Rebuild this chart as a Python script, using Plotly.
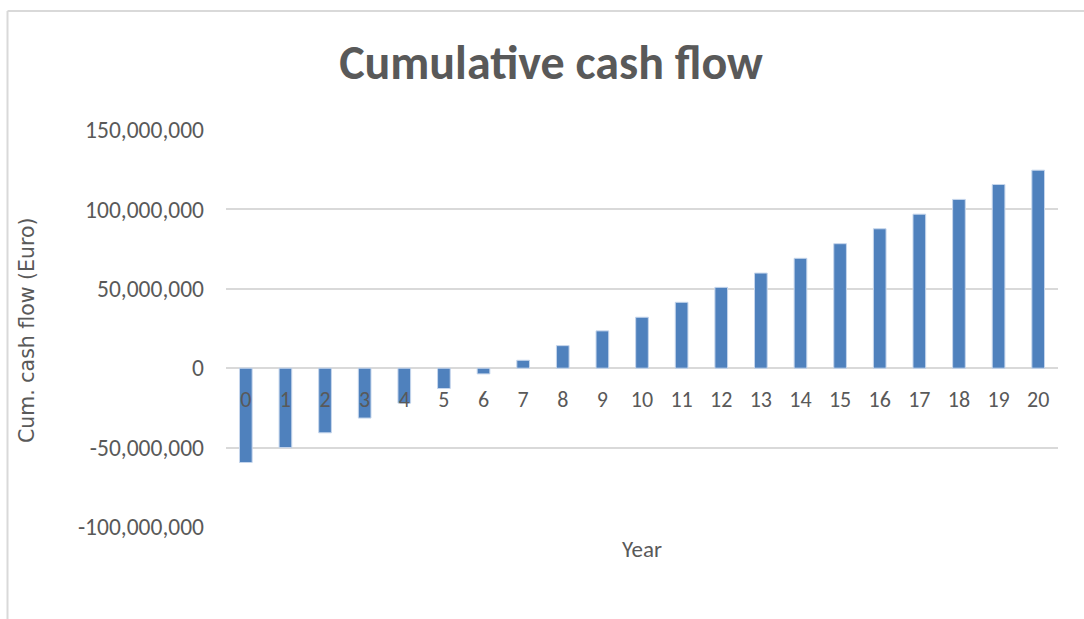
import plotly.graph_objects as go

years = [str(i) for i in range(21)]
cum_cash_flow = [-59.4e6, -50.0e6, -40.7e6, -31.4e6, -22.0e6, -12.8e6, -3.6e6,
                 5.0e6, 14.2e6, 23.5e6, 32.1e6, 41.5e6, 50.9e6, 59.9e6, 69.2e6,
                 78.4e6, 87.8e6, 97.0e6, 106.3e6, 115.7e6, 124.7e6]
y_ticks = [-100e6, -50e6, 0, 50e6, 100e6, 150e6]
y_tick_labels = ["-100,000,000", "-50,000,000", "0", "50,000,000", "100,000,000", "150,000,000"]

FONT = "Carlito, Calibri, Lato, sans-serif"
GRAY = "#595959"

W, H = 1084, 619
L, R, T, B = 226, 26, 130, 92
pw, ph = W - L - R, H - T - B

def px_x(x):
    return (x - L) / pw

def px_y(y):
    return (H - B - y) / ph

fig = go.Figure()
fig.add_trace(go.Bar(
    x=years, y=cum_cash_flow,
    marker=dict(color="#4F81BD", line=dict(color="#c6d6ec", width=1)),
    width=0.32,
))

fig.update_layout(
    width=W, height=H,
    margin=dict(l=L, r=R, t=T, b=B),
    paper_bgcolor="white", plot_bgcolor="white",
    showlegend=False,
    font=dict(family=FONT, color=GRAY),
    title=dict(text="<b>Cumulative cash flow</b>", x=551 / W, xanchor="center",
               xref="container", y=1 - 62 / H, yanchor="middle",
               font=dict(size=48, family=FONT, color=GRAY)),
    xaxis=dict(
        type="category", anchor="free", position=0.4,
        showgrid=False, showline=False, zeroline=False, ticks="",
        tickfont=dict(size=22, family=FONT, color=GRAY),
        ticklabelstandoff=16,
    ),
    yaxis=dict(
        range=[-100e6, 150e6], tickvals=y_ticks, ticktext=y_tick_labels,
        showgrid=True, gridcolor="#d9d9d9", gridwidth=1.5,
        zeroline=True, zerolinecolor="#d9d9d9", zerolinewidth=1.5,
        showline=False, ticks="",
        tickfont=dict(size=23.5, family=FONT, color=GRAY),
        ticklabelstandoff=21,
    ),
    annotations=[
        dict(text="Year", xref="paper", yref="paper",
             x=px_x(642), y=px_y(549), xanchor="center", yanchor="middle",
             showarrow=False, font=dict(size=23, family=FONT, color=GRAY)),
        dict(text="Cum. cash flow (Euro)", xref="paper", yref="paper",
             x=px_x(27), y=px_y(330), xanchor="center", yanchor="middle",
             textangle=-90, showarrow=False,
             font=dict(size=20.5, family="DejaVu Sans, sans-serif", color=GRAY)),
    ],
    shapes=[
        dict(type="line", xref="paper", yref="paper",
             x0=px_x(7.5), x1=px_x(1095), y0=px_y(11), y1=px_y(11),
             line=dict(color="#d9d9d9", width=2)),
        dict(type="line", xref="paper", yref="paper",
             x0=px_x(7.5), x1=px_x(7.5), y0=px_y(11), y1=px_y(630),
             line=dict(color="#d9d9d9", width=2)),
    ],
    bargap=0.68,
)

fig.write_html("out.html", config={"displayModeBar": False},
               post_script="document.body.style.margin='0';document.body.style.overflow='hidden';")
